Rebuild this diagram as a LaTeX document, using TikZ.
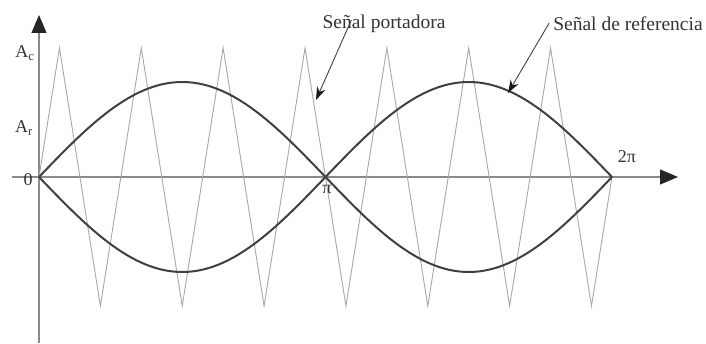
\documentclass[tikz,border=0pt]{standalone}
\usepackage{fontspec}
\setmainfont{Liberation Serif}
\usetikzlibrary{arrows.meta,positioning,calc}
\definecolor{axisGray}{HTML}{8A8A8A}
\definecolor{carrierGray}{HTML}{A8A8A8}
\definecolor{refGray}{HTML}{404040}
\tikzset{
  axisline/.style={draw=axisGray, line width=1.2pt, -{Triangle[length=18pt, width=15pt, black!85]}},
  carrier/.style={draw=carrierGray, line width=0.9pt, line join=miter},
  refwave/.style={draw=refGray, line width=2pt},
  axislabel/.style={font=\fontsize{18}{20}\selectfont, text=black!80, inner sep=0pt},
  notelabel/.style={font=\fontsize{19.5}{22}\selectfont, text=black!80, inner sep=0pt},
  noteArc/.style={draw=black!75, line width=0.9pt, -{Stealth[length=13pt, width=9pt, black!90]}},
}
\begin{document}
\begin{tikzpicture}[x=1pt, y=-1pt]
    \useasboundingbox (0,0) rectangle (706,344);
    \coordinate (origin) at (39,177);
    % axes
    \draw[axisline] (39,343) -- (39,15);
    \draw[axisline] (12,177) -- (678,177);
    % carrier (triangle), seven periods
    \draw[carrier] (origin)
      \foreach \k in {0,...,6} { -- ++(20.46,-129) -- ++(40.93,258) -- ++(20.46,-129) };
    % reference signals
    \draw[refwave] plot[domain=0:360, samples=90, smooth] ({39+\x*1.5917}, {177-95*sin(\x)});
    \draw[refwave] plot[domain=0:360, samples=90, smooth] ({39+\x*1.5917}, {177+95*sin(\x)});
    % labels
    \node[axislabel] (ac) at (25,53) {A\textsubscript{c}};
    \node[axislabel] (ar) at (24,128) {A\textsubscript{r}};
    \node[axislabel] (zero) at (28,180) {0};
    \node[axislabel] (pi) at (327,189) {π};
    \node[axislabel] (twopi) at (627,157) {2π};
    \node[notelabel] (port) at (384,24) {Señal portadora};
    \node[notelabel] (ref) at (628,24) {Señal de referencia};
    \coordinate (portTip) at (316,100);
    \coordinate (refTip) at (508,93);
    \draw[noteArc] ($(port.south west)+(29,-13)$) -- (portTip);
    \draw[noteArc] ($(ref.south west)+(-4,-8)$) -- (refTip);
  \end{tikzpicture}
\end{document}
